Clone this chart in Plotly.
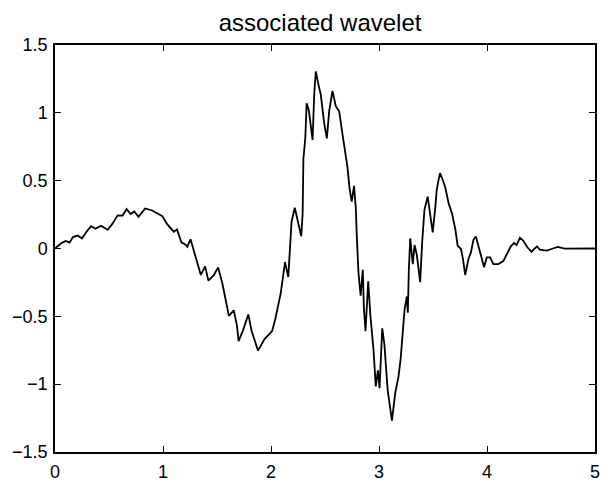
import plotly.graph_objects as go

x_vals = [0.00, 0.06, 0.10, 0.135, 0.166, 0.21, 0.25, 0.29, 0.334, 0.375, 0.426, 0.488, 0.534, 0.58,
          0.626, 0.663, 0.70, 0.734, 0.773, 0.835, 0.90, 0.994, 1.04, 1.07, 1.10, 1.13, 1.17, 1.21,
          1.225, 1.255, 1.30, 1.35, 1.39, 1.42, 1.47, 1.51, 1.55, 1.58, 1.61, 1.655, 1.685, 1.70,
          1.74, 1.79, 1.82, 1.88, 1.94, 2.01, 2.04, 2.09, 2.13, 2.16, 2.19, 2.22, 2.25, 2.28,
          2.293, 2.30, 2.318, 2.33, 2.35, 2.385, 2.40, 2.415, 2.44, 2.461, 2.493, 2.517, 2.539, 2.569,
          2.60, 2.631, 2.661, 2.69, 2.707, 2.728, 2.747, 2.769, 2.785, 2.795, 2.81, 2.83, 2.85, 2.86,
          2.875, 2.90, 2.92, 2.95, 2.97, 2.99, 3.005, 3.03, 3.05, 3.08, 3.10, 3.12, 3.15, 3.18,
          3.20, 3.221, 3.237, 3.258, 3.267, 3.276, 3.289, 3.313, 3.329, 3.35, 3.381, 3.40, 3.421, 3.451,
          3.483, 3.497, 3.522, 3.534, 3.55, 3.565, 3.584, 3.614, 3.645, 3.676, 3.707, 3.728, 3.759, 3.777,
          3.798, 3.829, 3.851, 3.875, 3.897, 3.921, 3.952, 3.973, 3.998, 4.029, 4.059, 4.105, 4.151, 4.182,
          4.219, 4.25, 4.274, 4.305, 4.335, 4.372, 4.413, 4.443, 4.464, 4.489, 4.551, 4.611, 4.657, 4.719,
          4.827, 5.00]
y_vals = [0.00, 0.04, 0.055, 0.043, 0.084, 0.095, 0.074, 0.122, 0.164, 0.145, 0.168, 0.138, 0.185, 0.244,
          0.243, 0.29, 0.254, 0.273, 0.234, 0.295, 0.28, 0.238, 0.178, 0.154, 0.124, 0.141, 0.045, 0.028,
          0.013, 0.068, -0.052, -0.195, -0.132, -0.236, -0.197, -0.139, -0.258, -0.366, -0.497, -0.455, -0.569, -0.683,
          -0.605, -0.486, -0.606, -0.753, -0.668, -0.609, -0.52, -0.33, -0.10, -0.21, 0.195, 0.30, 0.20, 0.09,
          0.255, 0.66, 0.82, 1.07, 1.02, 0.80, 1.135, 1.306, 1.206, 1.134, 0.92, 0.812, 1.014, 1.161,
          1.049, 1.012, 0.846, 0.703, 0.606, 0.44, 0.345, 0.462, 0.30, 0.08, -0.181, -0.347, -0.156, -0.443,
          -0.61, -0.241, -0.491, -0.754, -1.016, -0.898, -1.029, -0.588, -0.707, -1.042, -1.16, -1.269, -1.066, -0.947,
          -0.817, -0.639, -0.448, -0.354, -0.473, -0.163, 0.074, -0.116, 0.026, -0.046, -0.248, 0.049, 0.287, 0.382,
          0.191, 0.119, 0.309, 0.429, 0.50, 0.555, 0.52, 0.45, 0.332, 0.259, 0.14, 0.021, -0.004, -0.075,
          -0.195, -0.075, -0.029, 0.066, 0.089, 0.018, -0.078, -0.138, -0.066, -0.066, -0.115, -0.115, -0.093, -0.046,
          0.014, 0.041, 0.025, 0.079, 0.059, 0.011, -0.025, 0.002, 0.015, -0.009, -0.015, 0.0, 0.012, -0.001,
          0.0, 0.0]

x_ticks = [0, 1, 2, 3, 4, 5]
y_ticks = [-1.5, -1, -0.5, 0, 0.5, 1, 1.5]
y_tick_text = ["\u22121.5", "\u22121", "\u22120.5", "0", "0.5", "1", "1.5"]

FONT = "Liberation Sans, Arial, Helvetica, sans-serif"

fig = go.Figure()
fig.add_trace(go.Scatter(x=x_vals, y=y_vals, mode="lines",
                         line=dict(color="black", width=1.8), showlegend=False))

axis_common = dict(showgrid=False, zeroline=False, showline=True, linecolor="black", linewidth=1.5,
                   mirror="ticks", ticks="inside", ticklen=6, tickcolor="black", tickwidth=1.2,
                   tickfont=dict(family=FONT, size=18, color="black"))
fig.update_xaxes(range=[0, 5], tickvals=x_ticks, ticklabelstandoff=3, **axis_common)
fig.update_yaxes(range=[-1.5, 1.5], tickvals=y_ticks, ticktext=y_tick_text, ticklabelstandoff=2, **axis_common)

fig.update_layout(
    width=612, height=494,
    margin=dict(l=52, r=15, t=45, b=30),
    paper_bgcolor="white", plot_bgcolor="white",
    title=dict(text="associated wavelet", x=0.523, xanchor="center", y=0.955, yanchor="middle",
               font=dict(family=FONT, size=24, color="black")),
)
fig.write_html("out.html")
